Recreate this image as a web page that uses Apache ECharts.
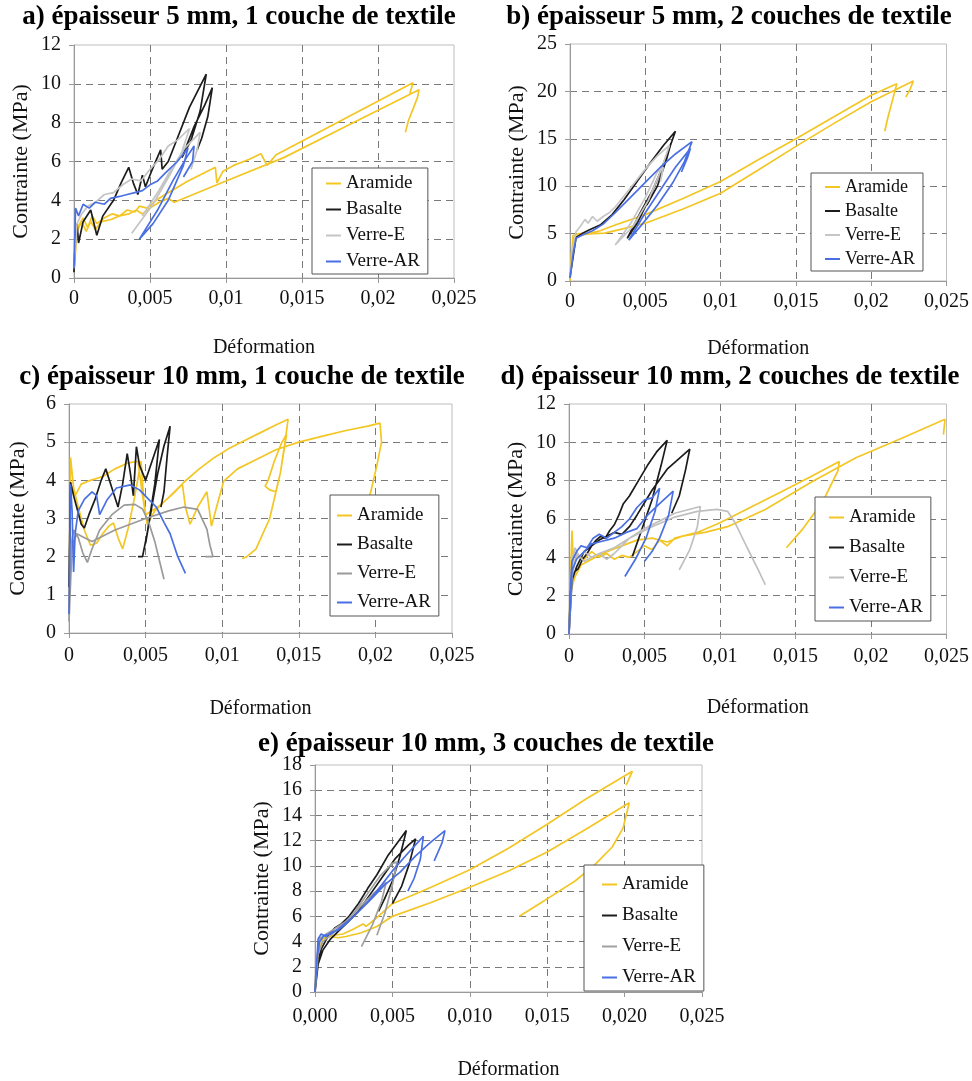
<!DOCTYPE html>
<html><head><meta charset="utf-8">
<script src="https://cdn.jsdelivr.net/npm/echarts@6/dist/echarts.min.js"></script>
<style>html,body{margin:0;padding:0;background:#fff}#c{width:972px;height:1081px}</style>
</head><body><div id="c"></div>
<script>
// ---------- texts / ticks ----------
const seriesNames = ['Aramide', 'Basalte', 'Verre-E', 'Verre-AR'];
const panelTitles = [
  'a) épaisseur 5 mm, 1 couche de textile',
  'b) épaisseur 5 mm, 2 couches de textile',
  'c) épaisseur 10 mm, 1 couche de textile',
  'd) épaisseur 10 mm, 2 couches de textile',
  'e) épaisseur 10 mm, 3 couches de textile'
];
const xTickLabels = ['0', '0,005', '0,01', '0,015', '0,02', '0,025'];
const xTickLabelsE = ['0,000', '0,005', '0,010', '0,015', '0,020', '0,025'];
const yMaxes = [12, 25, 6, 12, 18];
const ySteps = [2, 5, 1, 2, 2];
const xName = 'Déformation';
const yName = 'Contrainte (MPa)';
const B = [null, null]; // break between specimens

// ---------- a) 5 mm, 1 couche ----------
const a_aramide = [[0,0.3],[0.0001,2.0],[0.0003,2.7],[0.0006,3.1],[0.0009,2.6],[0.0012,3.2],[0.0015,2.8],[0.002,3.1],[0.0025,3.3],[0.003,3.2],[0.0035,3.5],[0.004,3.4],[0.0043,3.7],[0.0048,3.6],[0.0054,4.0],[0.006,4.3],[0.0075,5.0],[0.0093,5.7],[0.0094,4.9],[0.0098,5.5],[0.0105,5.8],[0.0115,6.1],[0.0123,6.4],[0.0127,5.8],[0.0133,6.35],[0.0178,8.2],[0.0223,10.05],[0.0221,9.5],B,
  [0,0.3],[0.0002,2.4],[0.0005,2.9],[0.0008,2.4],[0.0011,2.9],[0.0014,2.5],[0.0018,2.9],[0.0024,3.0],[0.003,3.2],[0.0036,3.3],[0.0041,3.5],[0.0045,3.3],[0.005,3.6],[0.0056,3.9],[0.0062,4.1],[0.0066,3.9],[0.01,5.0],[0.0138,6.2],[0.018,7.85],[0.0227,9.7],[0.0226,9.3],[0.0223,8.7],[0.022,8.1],[0.0218,7.5]];
const a_basalte = [[0,0.3],[0.0001,2.2],[0.0002,2.8],[0.0003,1.8],[0.0006,2.9],[0.0011,3.5],[0.0015,2.2],[0.0019,3.2],[0.0026,4.0],[0.0031,4.9],[0.0036,5.7],[0.0039,4.9],[0.0042,4.3],[0.0045,5.3],[0.0047,4.7],[0.0051,5.5],[0.0057,6.6],[0.0058,5.6],[0.0062,6.0],[0.0068,7.2],[0.0076,8.8],[0.0087,10.5],[0.0083,8.6],[0.0077,7.1],[0.0071,6.2],[0.0079,7.8],[0.0086,8.9],[0.0091,9.8],[0.0088,8.3],[0.0084,7.2],[0.0081,6.6]];
const a_verreE = [[0,0.5],[0.0002,2.8],[0.0005,3.3],[0.0009,3.7],[0.0014,3.9],[0.002,4.3],[0.0026,4.4],[0.0032,4.8],[0.0038,5.1],[0.0044,5.0],[0.005,5.6],[0.0056,6.1],[0.0062,6.8],[0.0068,7.1],[0.0076,7.7],[0.0071,6.5],[0.0063,5.3],[0.0052,3.8],[0.0038,2.3],B,
  [0.0045,3.2],[0.0055,4.4],[0.0064,5.6],[0.0073,6.7],[0.0083,7.5],[0.0081,6.6],[0.0077,5.6]];
const a_verreAR = [[0,0.5],[0.0001,3.6],[0.0003,3.2],[0.0006,3.8],[0.001,3.6],[0.0014,3.9],[0.002,3.8],[0.0024,4.1],[0.003,4.2],[0.0035,4.3],[0.004,4.4],[0.0045,4.5],[0.005,4.8],[0.0055,5.0],[0.006,5.4],[0.0068,6.0],[0.0075,6.7],[0.0072,5.8],[0.0062,4.0],[0.0052,2.8],[0.0043,2.0],[0.0055,3.5],[0.0065,5.0],[0.0074,6.2],[0.0079,6.8],[0.0078,6.0],[0.0072,5.2]];

// ---------- b) 5 mm, 2 couches ----------
const b_aramide = [[0,0],[0.0001,2.5],[0.0002,4.8],[0.0006,5.0],[0.0012,5.0],[0.002,5.3],[0.003,5.9],[0.005,7.0],[0.0075,8.7],[0.01,10.5],[0.0125,12.8],[0.015,15.0],[0.0175,17.3],[0.02,19.6],[0.0217,20.8],[0.0214,19.0],[0.0211,17.2],[0.0209,15.8],B,
  [0,0],[0.0001,3.0],[0.0003,4.6],[0.0008,4.9],[0.0015,5.0],[0.0023,5.05],[0.0035,5.5],[0.005,6.1],[0.0075,7.6],[0.01,9.25],[0.0125,11.7],[0.015,14.2],[0.0175,16.6],[0.02,18.9],[0.0228,21.1],[0.0226,20.3],[0.0223,19.4]];
const b_basalte = [[0,0.4],[0.0002,2.5],[0.0004,4.6],[0.0008,5.0],[0.0013,5.4],[0.002,5.9],[0.0028,7.0],[0.0036,8.6],[0.0045,10.6],[0.0054,12.6],[0.0062,14.3],[0.007,15.8],[0.0066,14.0],[0.006,11.5],[0.0052,8.5],[0.0045,6.2],[0.0038,4.5],[0.0046,7.0],[0.0055,9.6],[0.0062,12.2],[0.0067,14.5],[0.0064,12.8],[0.0058,10.0],[0.0051,8.0]];
const b_verreE = [[0,0.5],[0.0002,3.5],[0.0004,5.2],[0.0007,5.8],[0.001,6.5],[0.0012,6.1],[0.0015,6.8],[0.0018,6.3],[0.0022,6.8],[0.0026,7.2],[0.003,7.8],[0.0036,9.0],[0.0043,10.4],[0.005,11.8],[0.0058,13.2],[0.0066,14.3],[0.006,11.5],[0.0052,8.5],[0.0042,5.8],[0.003,3.8],[0.004,6.0],[0.005,8.8],[0.0058,11.5],[0.0062,12.0],[0.006,10.5]];
const b_verreAR = [[0,0.3],[0.0002,2.8],[0.0004,4.5],[0.0009,4.9],[0.0015,5.3],[0.0022,6.0],[0.003,7.2],[0.004,8.8],[0.005,10.4],[0.006,12.0],[0.007,13.4],[0.0081,14.7],[0.0076,12.6],[0.0068,10.3],[0.0058,8.0],[0.0048,6.0],[0.0039,4.3],[0.005,7.2],[0.006,9.6],[0.007,12.0],[0.008,14.0],[0.0078,13.0],[0.0074,11.5]];

// ---------- c) 10 mm, 1 couche ----------
const c_aramide = [[0,0.5],[0.0001,4.6],[0.0003,3.8],[0.0006,3.3],[0.001,2.7],[0.0014,2.3],[0.0018,2.35],[0.0022,2.6],[0.0026,2.8],[0.0029,2.88],[0.0032,2.5],[0.0035,2.2],[0.0039,2.8],[0.0043,3.6],[0.0047,4.5],[0.0049,3.4],[0.0051,2.85],[0.0056,3.2],[0.0065,3.55],[0.0075,3.95],[0.0085,4.3],[0.0095,4.6],[0.0105,4.85],[0.0115,5.05],[0.0125,5.25],[0.0135,5.45],[0.0143,5.6],[0.0141,5.0],[0.0138,4.2],[0.0135,3.7],[0.0131,3.75],[0.0128,3.85],[0.013,4.0],[0.0134,4.5],[0.0139,5.0],[0.0142,5.2],[0.0138,4.2],[0.0131,3.0],[0.0122,2.2],[0.0116,2.0],[0.0113,1.95],B,
  [0,0.5],[0.0001,3.9],[0.0004,3.6],[0.0008,3.9],[0.0014,4.0],[0.0022,4.1],[0.003,4.3],[0.0038,4.45],[0.0045,4.5],[0.0048,3.6],[0.005,3.1],[0.0058,3.3],[0.0068,3.65],[0.0074,3.9],[0.0076,3.3],[0.0079,2.85],[0.0084,3.3],[0.009,3.7],[0.0093,2.8],[0.0097,3.4],[0.0101,3.98],[0.011,4.3],[0.012,4.5],[0.0135,4.8],[0.015,5.0],[0.0165,5.15],[0.018,5.3],[0.0195,5.42],[0.0203,5.5],[0.0204,5.0],[0.0201,4.4],[0.0197,3.7],[0.0192,3.1],[0.0187,2.6]];
const c_basalte = [[0,1.2],[0.0001,3.95],[0.0003,3.6],[0.0005,3.3],[0.0008,2.85],[0.001,2.75],[0.0013,3.1],[0.0017,3.5],[0.0021,4.0],[0.0024,4.3],[0.0028,3.8],[0.0032,3.3],[0.0035,3.9],[0.0038,4.7],[0.004,4.2],[0.0042,3.6],[0.0044,4.88],[0.0046,4.4],[0.005,4.0],[0.0055,4.6],[0.0059,5.07],[0.0056,3.9],[0.0051,2.6],[0.0048,2.0],[0.0045,2.0],B,
  [0.005,2.35],[0.0054,3.3],[0.0058,4.2],[0.0062,4.9],[0.0066,5.42],[0.0064,4.6],[0.0062,3.7],[0.006,3.3]];
const c_verreE = [[0,0.3],[0.0001,2.2],[0.0003,2.7],[0.0006,2.5],[0.0009,2.1],[0.0012,1.85],[0.0015,2.2],[0.002,2.7],[0.0028,3.1],[0.0036,3.35],[0.0043,3.37],[0.0048,3.25],[0.0052,2.9],[0.0056,2.4],[0.0059,1.9],[0.0062,1.41],B,
  [0,0.3],[0.0002,2.3],[0.0005,2.6],[0.0015,2.4],[0.003,2.7],[0.005,3.0],[0.0065,3.2],[0.0075,3.3],[0.0084,3.24],[0.009,2.72],[0.0092,2.3],[0.0094,2.0],[0.0089,2.0]];
const c_verreAR = [[0,0.5],[0.0001,3.9],[0.0002,3.2],[0.0003,1.6],[0.0004,2.6],[0.0006,3.2],[0.001,3.5],[0.0015,3.7],[0.0018,3.6],[0.002,3.1],[0.0025,3.5],[0.0031,3.8],[0.004,3.88],[0.0046,3.75],[0.0052,3.5],[0.0057,3.3],[0.0062,2.9],[0.0066,2.6],[0.0071,2.0],[0.0076,1.56]];

// ---------- d) 10 mm, 2 couches ----------
const d_aramide = [[0,0],[0.0001,3.0],[0.0002,5.4],[0.0003,3.5],[0.0005,4.1],[0.001,3.9],[0.0015,4.3],[0.002,4.0],[0.0025,4.2],[0.003,3.9],[0.0035,4.1],[0.004,4.0],[0.0045,4.3],[0.005,4.6],[0.0055,4.4],[0.006,4.9],[0.0065,4.6],[0.007,5.0],[0.0085,5.3],[0.01,5.8],[0.012,6.6],[0.014,7.4],[0.016,8.2],[0.0179,9.0],[0.0178,8.5],[0.0168,6.9],[0.0155,5.5],[0.0144,4.5],B,
  [0,0],[0.0001,2.2],[0.0004,3.0],[0.0008,3.6],[0.0015,3.9],[0.0025,4.3],[0.0035,4.6],[0.0045,4.9],[0.0055,5.0],[0.0065,4.8],[0.0075,5.1],[0.009,5.3],[0.0105,5.6],[0.013,6.5],[0.016,7.9],[0.019,9.2],[0.022,10.2],[0.0249,11.2],[0.0248,10.4]];
const d_basalte = [[0,0],[0.0001,2.2],[0.0003,3.2],[0.0006,3.4],[0.0009,3.9],[0.0012,4.2],[0.0015,4.6],[0.0018,4.9],[0.0021,5.1],[0.0024,5.0],[0.0027,5.4],[0.003,5.7],[0.0033,6.2],[0.0036,6.8],[0.004,7.2],[0.0046,8.0],[0.0052,8.8],[0.0058,9.5],[0.0065,10.1],[0.0061,8.8],[0.0055,7.0],[0.0048,5.4],[0.0042,4.05],B,
  [0,0],[0.0002,2.8],[0.0005,3.5],[0.001,4.3],[0.0015,4.6],[0.002,4.9],[0.0025,5.1],[0.003,5.3],[0.0035,5.2],[0.004,5.6],[0.0045,6.2],[0.0055,7.5],[0.0065,8.6],[0.008,9.65],[0.0077,8.5],[0.0073,7.2],[0.0068,6.3]];
const d_verreE = [[0,0],[0.0002,3.8],[0.0004,4.5],[0.0007,4.0],[0.001,4.3],[0.0015,4.0],[0.002,4.2],[0.0025,3.9],[0.003,4.2],[0.0035,4.6],[0.004,5.0],[0.005,5.5],[0.006,5.9],[0.007,6.3],[0.0087,6.65],[0.0085,5.6],[0.008,4.4],[0.0073,3.35],B,
  [0,0],[0.0002,3.0],[0.0005,4.2],[0.001,3.8],[0.002,4.2],[0.003,4.5],[0.004,5.0],[0.0055,5.6],[0.007,6.1],[0.0085,6.4],[0.0098,6.5],[0.0105,6.4],[0.011,5.8],[0.0118,4.5],[0.0125,3.4],[0.013,2.57]];
const d_verreAR = [[0,0],[0.0001,2.5],[0.0002,3.8],[0.0005,4.3],[0.0008,4.6],[0.0012,4.5],[0.0016,5.0],[0.002,5.2],[0.0025,5.0],[0.003,5.3],[0.0035,5.6],[0.004,6.0],[0.0045,6.6],[0.005,7.0],[0.0055,7.1],[0.006,7.6],[0.0057,6.4],[0.0051,5.0],[0.0044,3.9],[0.0037,3.0],B,
  [0,0],[0.0002,3.3],[0.0005,3.9],[0.001,4.3],[0.0015,4.7],[0.002,4.8],[0.003,5.0],[0.0038,5.3],[0.0045,5.5],[0.0052,6.2],[0.006,6.8],[0.0069,7.45],[0.0066,6.2],[0.006,5.0],[0.0055,4.3],[0.005,3.8]];

// ---------- e) 10 mm, 3 couches ----------
const e_aramide = [[0,0],[0.0001,2.5],[0.0003,4.0],[0.0007,4.4],[0.0012,4.5],[0.0018,4.6],[0.0025,5.0],[0.0031,5.4],[0.0033,5.2],[0.004,5.9],[0.005,7.0],[0.0075,8.3],[0.01,9.7],[0.0125,11.4],[0.015,13.3],[0.0175,15.3],[0.0205,17.5],[0.0201,16.4],B,
  [0,0],[0.0002,3.0],[0.0005,4.2],[0.001,4.4],[0.0015,4.3],[0.002,4.4],[0.003,4.7],[0.004,5.2],[0.005,6.0],[0.0075,7.1],[0.01,8.3],[0.0125,9.6],[0.015,11.1],[0.0175,12.9],[0.0203,15.0],[0.0199,13.0],[0.0192,11.5],[0.018,10.0],[0.0168,8.8],[0.0159,8.1],[0.0145,7.0],[0.0132,6.0]];
const e_basalte = [[0,0],[0.0001,1.5],[0.0002,2.5],[0.0004,3.4],[0.0007,4.1],[0.001,4.7],[0.0013,5.1],[0.0017,5.4],[0.0022,6.0],[0.0028,7.0],[0.0034,8.2],[0.004,9.3],[0.0047,10.8],[0.0053,11.8],[0.0059,12.8],[0.0055,10.8],[0.005,8.8],[0.0045,7.4],[0.0041,6.4],B,
  [0,0],[0.0002,2.2],[0.0005,3.3],[0.001,4.2],[0.0015,4.8],[0.002,5.4],[0.0028,6.4],[0.0036,7.8],[0.0044,9.2],[0.0052,10.6],[0.006,11.6],[0.0065,12.15],[0.0061,10.2],[0.0056,8.4],[0.005,7.0]];
const e_verreE = [[0,0],[0.0001,2.5],[0.0003,4.2],[0.0006,4.5],[0.001,4.8],[0.0015,5.2],[0.002,5.6],[0.0028,6.6],[0.0036,7.6],[0.0043,8.4],[0.0046,8.7],[0.0043,7.2],[0.0037,5.3],[0.003,3.6],B,
  [0,0],[0.0002,3.0],[0.0005,4.0],[0.001,4.5],[0.0018,5.3],[0.0026,6.4],[0.0034,7.8],[0.0042,9.2],[0.005,10.2],[0.0053,10.3],[0.005,8.5],[0.0045,6.2],[0.004,4.5]];
const e_verreAR = [[0,0],[0.0001,2.0],[0.0002,4.2],[0.0004,4.6],[0.0007,4.4],[0.001,4.7],[0.0015,4.9],[0.002,5.4],[0.003,6.6],[0.004,8.0],[0.005,9.6],[0.006,11.0],[0.0066,11.8],[0.007,12.35],[0.0068,10.5],[0.0064,9.0],[0.006,8.0],B,
  [0,0],[0.0001,2.5],[0.0003,4.0],[0.0006,4.5],[0.001,4.6],[0.0015,5.0],[0.0025,6.0],[0.0035,7.2],[0.0045,8.5],[0.0055,9.5],[0.0065,10.8],[0.0075,11.9],[0.0084,12.8],[0.0082,11.8],[0.0077,10.4]];

const panelData = [
  [a_aramide, a_basalte, a_verreE, a_verreAR],
  [b_aramide, b_basalte, b_verreE, b_verreAR],
  [c_aramide, c_basalte, c_verreE, c_verreAR],
  [d_aramide, d_basalte, d_verreE, d_verreAR],
  [e_aramide, e_basalte, e_verreE, e_verreAR]
];

// ---------- styles / layout ----------
const FONT = '"Liberation Serif", "Times New Roman", serif';
const grayE = ['#c4c4c4', '#c6c6c6', '#9a9a9a', '#bfbfbf', '#a0a0a0'];
const baseColors = ['#f3c623', '#1c1c1c', null, '#4a6fe3'];
const grids = [
  {left: 74, top: 45, width: 380, height: 233},
  {left: 570, top: 44, width: 381, height: 237},
  {left: 69, top: 404, width: 383, height: 229},
  {left: 569, top: 404, width: 379, height: 230},
  {left: 315, top: 765, width: 387, height: 233}
];
const xLabelMargins = [11, 11, 13, 13, 15];
const xNameGaps = [60, 58, 66, 64, 68];
const yNameGaps = [42, 42, 40, 42, 42];
const titlePos = [[239, 4], [729, 4], [242, 364], [730, 364], [486, 731]];
const legendBoxes = [
  {left: 312, top: 168, gap: 7, pad: [6, 8, 3, 14], font: 19},
  {left: 811, top: 173, gap: 6, pad: [5, 8, 3, 14], font: 18},
  {left: 330, top: 495, gap: 10, pad: [11, 8, 4, 7], font: 19},
  {left: 815, top: 497, gap: 11, pad: [11, 8, 4, 14], font: 19},
  {left: 584, top: 865, gap: 12, pad: [10, 8, 4, 18], font: 19}
];

const option = {
  animation: false,
  backgroundColor: '#fff',
  grid: grids.map(g => Object.assign({show: true, borderColor: '#bdbdbd', borderWidth: 1, backgroundColor: 'transparent'}, g)),
  xAxis: grids.map((g, i) => {
    const labels = i === 4 ? xTickLabelsE : xTickLabels;
    return {
      type: 'value', gridIndex: i, min: 0, max: 0.025, interval: 0.005,
      name: xName, nameLocation: 'middle', nameGap: xNameGaps[i],
      nameTextStyle: {fontFamily: FONT, fontSize: 20, color: '#111'},
      axisLine: {show: true, onZero: false, lineStyle: {color: '#999', width: 1}},
      axisTick: {show: true, length: 5, lineStyle: {color: '#999'}},
      axisLabel: {fontFamily: FONT, fontSize: 20, color: '#111', margin: xLabelMargins[i],
        formatter: v => labels[Math.round(v / 0.005)]},
      splitLine: {show: true, showMinLine: false, showMaxLine: false,
        lineStyle: {color: '#7a7a7a', type: [7, 5], width: 1}}
    };
  }),
  yAxis: grids.map((g, i) => ({
    type: 'value', gridIndex: i, min: 0, max: yMaxes[i], interval: ySteps[i],
    name: yName, nameLocation: 'middle', nameGap: yNameGaps[i],
    nameTextStyle: {fontFamily: FONT, fontSize: 22, color: '#111'},
    axisLine: {show: true, onZero: false, lineStyle: {color: '#999', width: 1}},
    axisTick: {show: true, length: 5, lineStyle: {color: '#999'}},
    axisLabel: {fontFamily: FONT, fontSize: 20, color: '#111', margin: 13},
    splitLine: {show: true, showMinLine: false, showMaxLine: false,
      lineStyle: {color: '#7a7a7a', type: [7, 5], width: 1}}
  })),
  legend: legendBoxes.map((L, i) => ({
    orient: 'vertical', left: L.left, top: L.top, padding: L.pad, itemGap: L.gap,
    itemWidth: 15, itemHeight: 2, icon: 'rect', selectedMode: false,
    backgroundColor: '#fff', borderColor: '#555', borderWidth: 1, borderRadius: 0,
    textStyle: {fontFamily: FONT, fontSize: L.font, lineHeight: L.font, color: '#111'},
    data: seriesNames.map((n, k) => ({name: n, itemStyle: {color: k === 2 ? grayE[i] : baseColors[k]}}))
  })),
  graphic: panelTitles.map((t, i) => ({
    type: 'text', x: titlePos[i][0], y: titlePos[i][1],
    style: {text: t, font: 'bold 27px ' + FONT, fill: '#000',
      textAlign: 'center', textVerticalAlign: 'top', align: 'center', verticalAlign: 'top'}
  })),
  series: []
};

panelData.forEach((arrs, i) => {
  arrs.forEach((arr, k) => {
    const col = k === 2 ? grayE[i] : baseColors[k];
    option.series.push({
      type: 'line', name: seriesNames[k], xAxisIndex: i, yAxisIndex: i,
      data: arr, showSymbol: false, symbol: 'none', connectNulls: false,
      color: col, lineStyle: {color: col, width: 1.7}, z: 2 + k * 0.1,
      clip: true
    });
  });
});

const chart = echarts.init(document.getElementById('c'), null, {renderer: 'canvas'});
chart.setOption(option);
</script>
</body></html>
